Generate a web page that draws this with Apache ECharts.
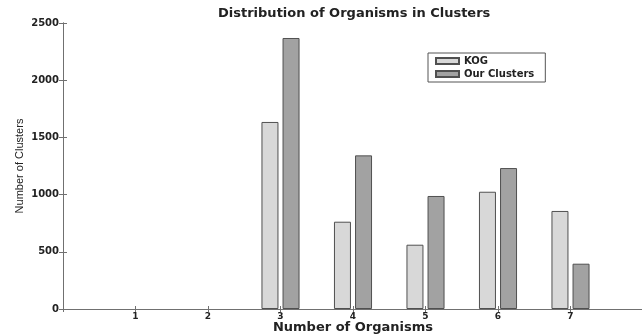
<!DOCTYPE html>
<html>
<head>
<meta charset="utf-8">
<script src="https://cdn.jsdelivr.net/npm/echarts@6/dist/echarts.min.js"></script>
<style>html,body{margin:0;padding:0;background:#fff}#c{width:642px;height:336px}</style>
</head>
<body>
<div id="c"></div>
<script>
var categories = [1, 2, 3, 4, 5, 6, 7];
var kogValues = [0, 0, 1635, 763, 562, 1025, 857];
var ourValues = [0, 0, 2369, 1343, 988, 1232, 396];
var yTicks = [0, 500, 1000, 1500, 2000, 2500];

var chart = echarts.init(document.getElementById('c'), null, {renderer: 'canvas'});
var fontF = 'DejaVu Sans';
var axisColor = '#707070';
function pairs(vals) {
  var out = [];
  categories.forEach(function (c, i) { if (vals[i] > 0) out.push([c, vals[i]]); });
  return out;
}

chart.setOption({
  animation: false,
  backgroundColor: '#ffffff',
  title: {
    text: 'Distribution of Organisms in Clusters',
    left: 213, top: 2,
    textStyle: {fontFamily: fontF, fontSize: 13, fontWeight: 'bold', color: '#222'}
  },
  legend: {
    orient: 'vertical',
    left: 428, top: 53,
    icon: 'rect',
    itemWidth: 23, itemHeight: 6, itemGap: 3,
    padding: [3, 11, 3, 7],
    borderColor: '#555', borderWidth: 1,
    textStyle: {fontFamily: fontF, fontSize: 10, fontWeight: 'bold', color: '#222'},
    data: ['KOG', 'Our Clusters']
  },
  grid: {left: 63, right: -1, top: 23, bottom: 27, containLabel: false, outerBoundsMode: 'none'},
  xAxis: [{
    type: 'value', min: 0, max: 8, interval: 1, position: 'bottom',
    name: 'Number of Organisms', nameLocation: 'middle', nameGap: 12, nameMoveOverlap: false,
    nameTextStyle: {fontFamily: fontF, fontSize: 13, fontWeight: 'bold', color: '#222'},
    axisLine: {show: true, lineStyle: {color: axisColor, width: 1}},
    axisTick: {show: true, inside: true, length: 3, lineStyle: {color: axisColor}},
    axisLabel: {margin: 3, fontFamily: fontF, fontSize: 9, fontWeight: 'bold', color: '#222',
      formatter: function (v) { return categories.indexOf(v) >= 0 ? String(v) : ''; }},
    splitLine: {show: false}
  }, {
    type: 'value', min: 0, max: 8, interval: 1, position: 'top',
    axisLine: {show: true, lineStyle: {color: axisColor, width: 1}},
    axisTick: {show: true, inside: true, length: 3, lineStyle: {color: axisColor}},
    axisLabel: {show: false}, splitLine: {show: false}
  }],
  yAxis: [{
    type: 'value', min: 0, max: 2500, interval: 500, position: 'left',
    name: 'Number of Clusters', nameLocation: 'middle', nameGap: 38, nameRotate: 90, nameMoveOverlap: false,
    nameTextStyle: {fontFamily: 'Liberation Sans', fontSize: 11, color: '#222'},
    axisLine: {show: true, lineStyle: {color: axisColor, width: 1}},
    axisTick: {show: true, inside: true, length: 4, lineStyle: {color: axisColor}},
    axisLabel: {margin: 4, fontFamily: fontF, fontSize: 10, fontWeight: 'bold', color: '#222',
      formatter: function (v) { return yTicks.indexOf(v) >= 0 ? String(v) : ''; }},
    splitLine: {show: false}
  }, {
    type: 'value', min: 0, max: 2500, interval: 500, position: 'right',
    axisLine: {show: true, lineStyle: {color: axisColor, width: 1}},
    axisTick: {show: true, inside: true, length: 4, lineStyle: {color: axisColor}},
    axisLabel: {show: false}, splitLine: {show: false}
  }],
  series: [{
    name: 'KOG', type: 'bar', xAxisIndex: 0, yAxisIndex: 0,
    barWidth: 17, barGap: '24%',
    itemStyle: {color: '#d8d8d8', borderColor: '#505050', borderWidth: 1},
    data: pairs(kogValues)
  }, {
    name: 'Our Clusters', type: 'bar', xAxisIndex: 0, yAxisIndex: 0,
    barWidth: 17, barGap: '24%',
    itemStyle: {color: '#a2a2a2', borderColor: '#505050', borderWidth: 1},
    data: pairs(ourValues)
  }]
});
</script>
</body>
</html>
